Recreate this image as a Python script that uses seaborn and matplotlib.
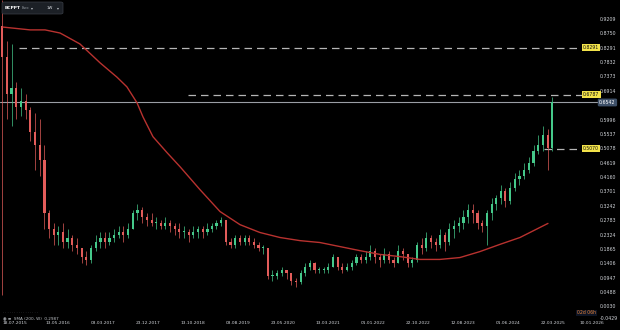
import numpy as np
import pandas as pd
import matplotlib
matplotlib.use("Agg")
import matplotlib.pyplot as plt
import matplotlib.dates as mdates
from matplotlib.patches import FancyBboxPatch
from matplotlib.transforms import ScaledTranslation
import seaborn as sns

# ---------------- data (monthly candles) ----------------
first_month = "2015-05-01"
first_open = 0.90
closes = [0.80, 0.68, 0.70, 0.64, 0.66, 0.63, 0.56, 0.52, 0.47, 0.30,
          0.25, 0.23, 0.24, 0.21, 0.22, 0.20, 0.19, 0.16, 0.15, 0.19,
          0.21, 0.22, 0.21, 0.22, 0.23, 0.24, 0.23, 0.25, 0.30, 0.31,
          0.29, 0.28, 0.27, 0.27, 0.26, 0.27, 0.26, 0.25, 0.24, 0.24,
          0.23, 0.24, 0.25, 0.24, 0.25, 0.26, 0.27, 0.28, 0.21, 0.20,
          0.22, 0.21, 0.22, 0.21, 0.20, 0.19, 0.19, 0.10, 0.10, 0.11,
          0.12, 0.11, 0.085, 0.08, 0.11, 0.13, 0.14, 0.12, 0.12, 0.12,
          0.13, 0.16, 0.13, 0.12, 0.13, 0.14, 0.16, 0.15, 0.16, 0.18,
          0.16, 0.15, 0.17, 0.15, 0.14, 0.18, 0.17, 0.14, 0.15, 0.20,
          0.19, 0.22, 0.21, 0.20, 0.23, 0.21, 0.25, 0.26, 0.27, 0.29,
          0.31, 0.30, 0.27, 0.26, 0.30, 0.33, 0.35, 0.37, 0.34, 0.38,
          0.41, 0.42, 0.44, 0.46, 0.50, 0.52, 0.55, 0.51, 0.6542]
highs = [0.98, 0.85, 0.84, 0.72, 0.70, 0.68, 0.64, 0.62, 0.60, 0.52,
         0.31, 0.27, 0.26, 0.27, 0.25, 0.23, 0.22, 0.19, 0.18, 0.20,
         0.23, 0.24, 0.24, 0.24, 0.25, 0.26, 0.26, 0.27, 0.31, 0.33,
         0.32, 0.30, 0.30, 0.29, 0.28, 0.29, 0.28, 0.27, 0.27, 0.26,
         0.25, 0.26, 0.26, 0.26, 0.27, 0.27, 0.28, 0.29, 0.28, 0.22,
         0.23, 0.23, 0.23, 0.23, 0.22, 0.21, 0.20, 0.19, 0.12, 0.12,
         0.13, 0.12, 0.11, 0.095, 0.12, 0.14, 0.15, 0.145, 0.13, 0.13,
         0.14, 0.17, 0.16, 0.14, 0.14, 0.15, 0.17, 0.17, 0.18, 0.20,
         0.19, 0.17, 0.19, 0.18, 0.16, 0.20, 0.19, 0.17, 0.16, 0.21,
         0.22, 0.24, 0.23, 0.22, 0.25, 0.24, 0.27, 0.28, 0.29, 0.31,
         0.33, 0.33, 0.31, 0.28, 0.31, 0.35, 0.36, 0.39, 0.38, 0.40,
         0.43, 0.44, 0.46, 0.48, 0.52, 0.55, 0.58, 0.57, 0.672]
lows = [0.04, 0.60, 0.58, 0.60, 0.61, 0.60, 0.53, 0.44, 0.42, 0.25,
        0.22, 0.20, 0.20, 0.19, 0.19, 0.18, 0.17, 0.14, 0.135, 0.14,
        0.18, 0.19, 0.19, 0.20, 0.21, 0.22, 0.21, 0.22, 0.25, 0.28,
        0.27, 0.26, 0.26, 0.25, 0.25, 0.25, 0.24, 0.23, 0.22, 0.22,
        0.21, 0.22, 0.22, 0.22, 0.23, 0.24, 0.25, 0.26, 0.20, 0.19,
        0.19, 0.20, 0.20, 0.20, 0.19, 0.18, 0.17, 0.09, 0.085, 0.09,
        0.10, 0.09, 0.07, 0.065, 0.075, 0.10, 0.12, 0.11, 0.11, 0.11,
        0.11, 0.13, 0.12, 0.11, 0.115, 0.12, 0.135, 0.14, 0.14, 0.15,
        0.14, 0.13, 0.14, 0.14, 0.13, 0.14, 0.15, 0.13, 0.13, 0.145,
        0.17, 0.18, 0.19, 0.18, 0.19, 0.18, 0.20, 0.22, 0.24, 0.25,
        0.27, 0.27, 0.25, 0.24, 0.20, 0.28, 0.31, 0.33, 0.32, 0.33,
        0.37, 0.39, 0.41, 0.43, 0.45, 0.49, 0.50, 0.44, 0.50]

# 200-period moving average
ma_dates = ["2015-05-20", "2015-11-13", "2016-02-19", "2016-05-27", "2016-07-11",
            "2016-10-04", "2017-02-12", "2017-06-03", "2017-08-07", "2017-10-12",
            "2017-11-20", "2018-01-24", "2018-04-26", "2018-07-20", "2018-11-27",
            "2019-04-07", "2019-08-16", "2019-12-24", "2020-05-03", "2020-09-11",
            "2021-01-19", "2021-05-30", "2021-10-08", "2022-02-15", "2022-06-26",
            "2022-11-03", "2023-03-14", "2023-07-23", "2023-11-30", "2024-04-09",
            "2024-08-18", "2024-12-26", "2025-02-17"]
ma_values = [0.895, 0.886, 0.886, 0.876, 0.864, 0.841, 0.781, 0.735, 0.704, 0.653,
             0.608, 0.545, 0.494, 0.449, 0.376, 0.306, 0.264, 0.239, 0.223, 0.213,
             0.207, 0.194, 0.181, 0.169, 0.162, 0.153, 0.153, 0.159, 0.178, 0.201,
             0.223, 0.255, 0.268]

y_tick_values = [0.9209, 0.8750, 0.8291, 0.7832, 0.7373, 0.6914, 0.5996, 0.5537,
                 0.5078, 0.4619, 0.4160, 0.3701, 0.3242, 0.2783, 0.2324, 0.1865,
                 0.1406, 0.0947, 0.0488, 0.0030, -0.0429]
x_tick_labels = ["18.07.2015", "13.05.2016", "03.03.2017", "23.12.2017", "13.10.2018",
                 "03.08.2019", "23.05.2020", "13.03.2021", "01.01.2022", "22.10.2022",
                 "12.08.2023", "01.06.2024", "22.03.2025", "10.01.2026"]

current_price = 0.6542
level_values = [0.8291, 0.6787, 0.5070]
level_labels = ["0.8291", "0.6787", "0.5070"]
level_starts = ["2015-09-01", "2018-09-10", "2025-01-20"]

ma_label = "SMA (200, W)  0.2987"
ticker = "BCPPT"

# ---------------- styling ----------------
sns.set_theme(style="dark")
plt.rcParams["font.family"] = ["DejaVu Sans"]
BG = "#000000"
GREEN = "#45c98a"
RED = "#e25c5a"
MA_COL = "#b8322f"
TXT = "#d0d3d8"

W, H = 620, 330
fig = plt.figure(figsize=(6.2, 3.3), dpi=100, facecolor=BG)
ax = fig.add_axes([0, (H - 321) / H, 598 / W, 321 / H], facecolor=BG)

dates = pd.date_range(first_month, periods=len(closes), freq="MS") + pd.Timedelta(days=14)
opens = [first_open] + closes[:-1]
df = pd.DataFrame({"date": dates, "open": opens, "close": closes, "high": highs, "low": lows})
df["up"] = df["close"] >= df["open"]
df["color"] = np.where(df["up"], GREEN, RED)
df["bottom"] = df[["open", "close"]].min(axis=1)
df["height"] = (df["close"] - df["open"]).abs().clip(lower=0.003)

# wicks
ax.vlines(df["date"], df["low"], df["high"], colors=df["color"], linewidth=0.5, zorder=3)
# bodies
ax.bar(df["date"], df["height"], bottom=df["bottom"], width=14, color=df["color"],
       linewidth=0, zorder=4)

# moving average via seaborn
ma_df = pd.DataFrame({"date": pd.to_datetime(ma_dates), "ma": ma_values})
sns.lineplot(data=ma_df, x="date", y="ma", ax=ax, color=MA_COL, linewidth=1.0, zorder=5)

# scales
def px_to_date(px):
    return pd.Timestamp("2015-07-18") + pd.Timedelta(days=(px - 12) * 6.533)

ax.set_xlim(mdates.date2num(px_to_date(0)), mdates.date2num(px_to_date(598)))
per_px = 0.0459 / 14.4
ax.set_ylim(0.9209 - (321.6 - 19) * per_px, 0.9209 + 19 * per_px)

# horizontal levels
xmax = mdates.date2num(px_to_date(583))
for val, lab, start in zip(level_values, level_labels, level_starts):
    ax.hlines(val, mdates.date2num(pd.Timestamp(start)), xmax, colors="#b5b5b5",
              linewidth=0.9, linestyles=(0, (6, 4)), zorder=2)
    ax.text(xmax + 1, val, lab, ha="left", va="center", fontsize=3.3, color="#111111",
            bbox=dict(boxstyle="square,pad=0.25", fc="#f2e24a", ec="none"), zorder=7)
ax.axhline(current_price, color="#9a9ea4", linewidth=0.8, zorder=2)

# axes decoration
ax.yaxis.tick_right()
ax.set_yticks(y_tick_values)
ax.set_yticklabels([f"{v:.4f}" for v in y_tick_values])
ax.set_xticks(pd.to_datetime(x_tick_labels, format="%d.%m.%Y"))
ax.set_xticklabels(x_tick_labels)
ax.tick_params(axis="both", length=0, labelsize=3.4, colors=TXT, pad=1)
ax.tick_params(axis="x", pad=0.3, labelsize=3.2)
ax.set_xlabel("")
ax.set_ylabel("")
ax.grid(False)
for s in ax.spines.values():
    s.set_visible(False)
if ax.get_legend():
    ax.get_legend().remove()

# nudge edge labels so they stay inside the picture and do not collide
ylabels = ax.get_yticklabels()
ylabels[-1].set_transform(ylabels[-1].get_transform() + ScaledTranslation(0, 0.025, fig.dpi_scale_trans))
xlabels = ax.get_xticklabels()
xlabels[-1].set_transform(xlabels[-1].get_transform() + ScaledTranslation(-0.06, 0, fig.dpi_scale_trans))
xlabels[0].set_transform(xlabels[0].get_transform() + ScaledTranslation(0.03, 0, fig.dpi_scale_trans))

# current price label on axis
ax.text(1.002, current_price, f"{current_price:.4f}", transform=ax.get_yaxis_transform(),
        ha="left", va="center", fontsize=3.4, color="#ffffff",
        bbox=dict(boxstyle="round,pad=0.3,rounding_size=0.3", fc="#3e5068", ec="none"),
        zorder=8, clip_on=False)

# header box (top left)
def fx(px):
    return px / W

def fy(py):
    return 1 - py / H

hdr = FancyBboxPatch((fx(2), fy(14)), fx(61), 12 / H, boxstyle="round,pad=0,rounding_size=0.004",
                     transform=fig.transFigure, fc="#1c2026", ec="#3a3f47", lw=0.5, zorder=10)
fig.patches.append(hdr)
fig.text(fx(5), fy(8), ticker, fontsize=3.2, color="#ffffff", weight="bold", va="center", zorder=11)
fig.text(fx(22), fy(8), "Euro", fontsize=2.4, color="#9aa0a8", va="center", zorder=11)
fig.text(fx(31), fy(8), "▾", fontsize=2.8, color="#c0c4ca", va="center", zorder=11)
fig.text(fx(47), fy(8), "1W", fontsize=2.8, color="#e0e3e8", va="center", zorder=11)
fig.text(fx(57), fy(8), "▾", fontsize=2.8, color="#c0c4ca", va="center", zorder=11)

# indicator legend (bottom left)
fig.text(fx(3), fy(313), "· · · · · · · · · · · · · · · ·", fontsize=2.6, color="#6a6e74", va="center")
fig.text(fx(3), fy(318), "◉ ≡  " + ma_label, fontsize=3.0, color="#bfc3c8", va="center")

# countdown label (bottom right)
fig.text(fx(577), fy(313), "02d 06h", fontsize=3.3, color="#e8843c", va="center",
         bbox=dict(boxstyle="square,pad=0.2", fc="#0d1424", ec="none"))

fig.savefig("out.png", dpi=100, facecolor=BG)
